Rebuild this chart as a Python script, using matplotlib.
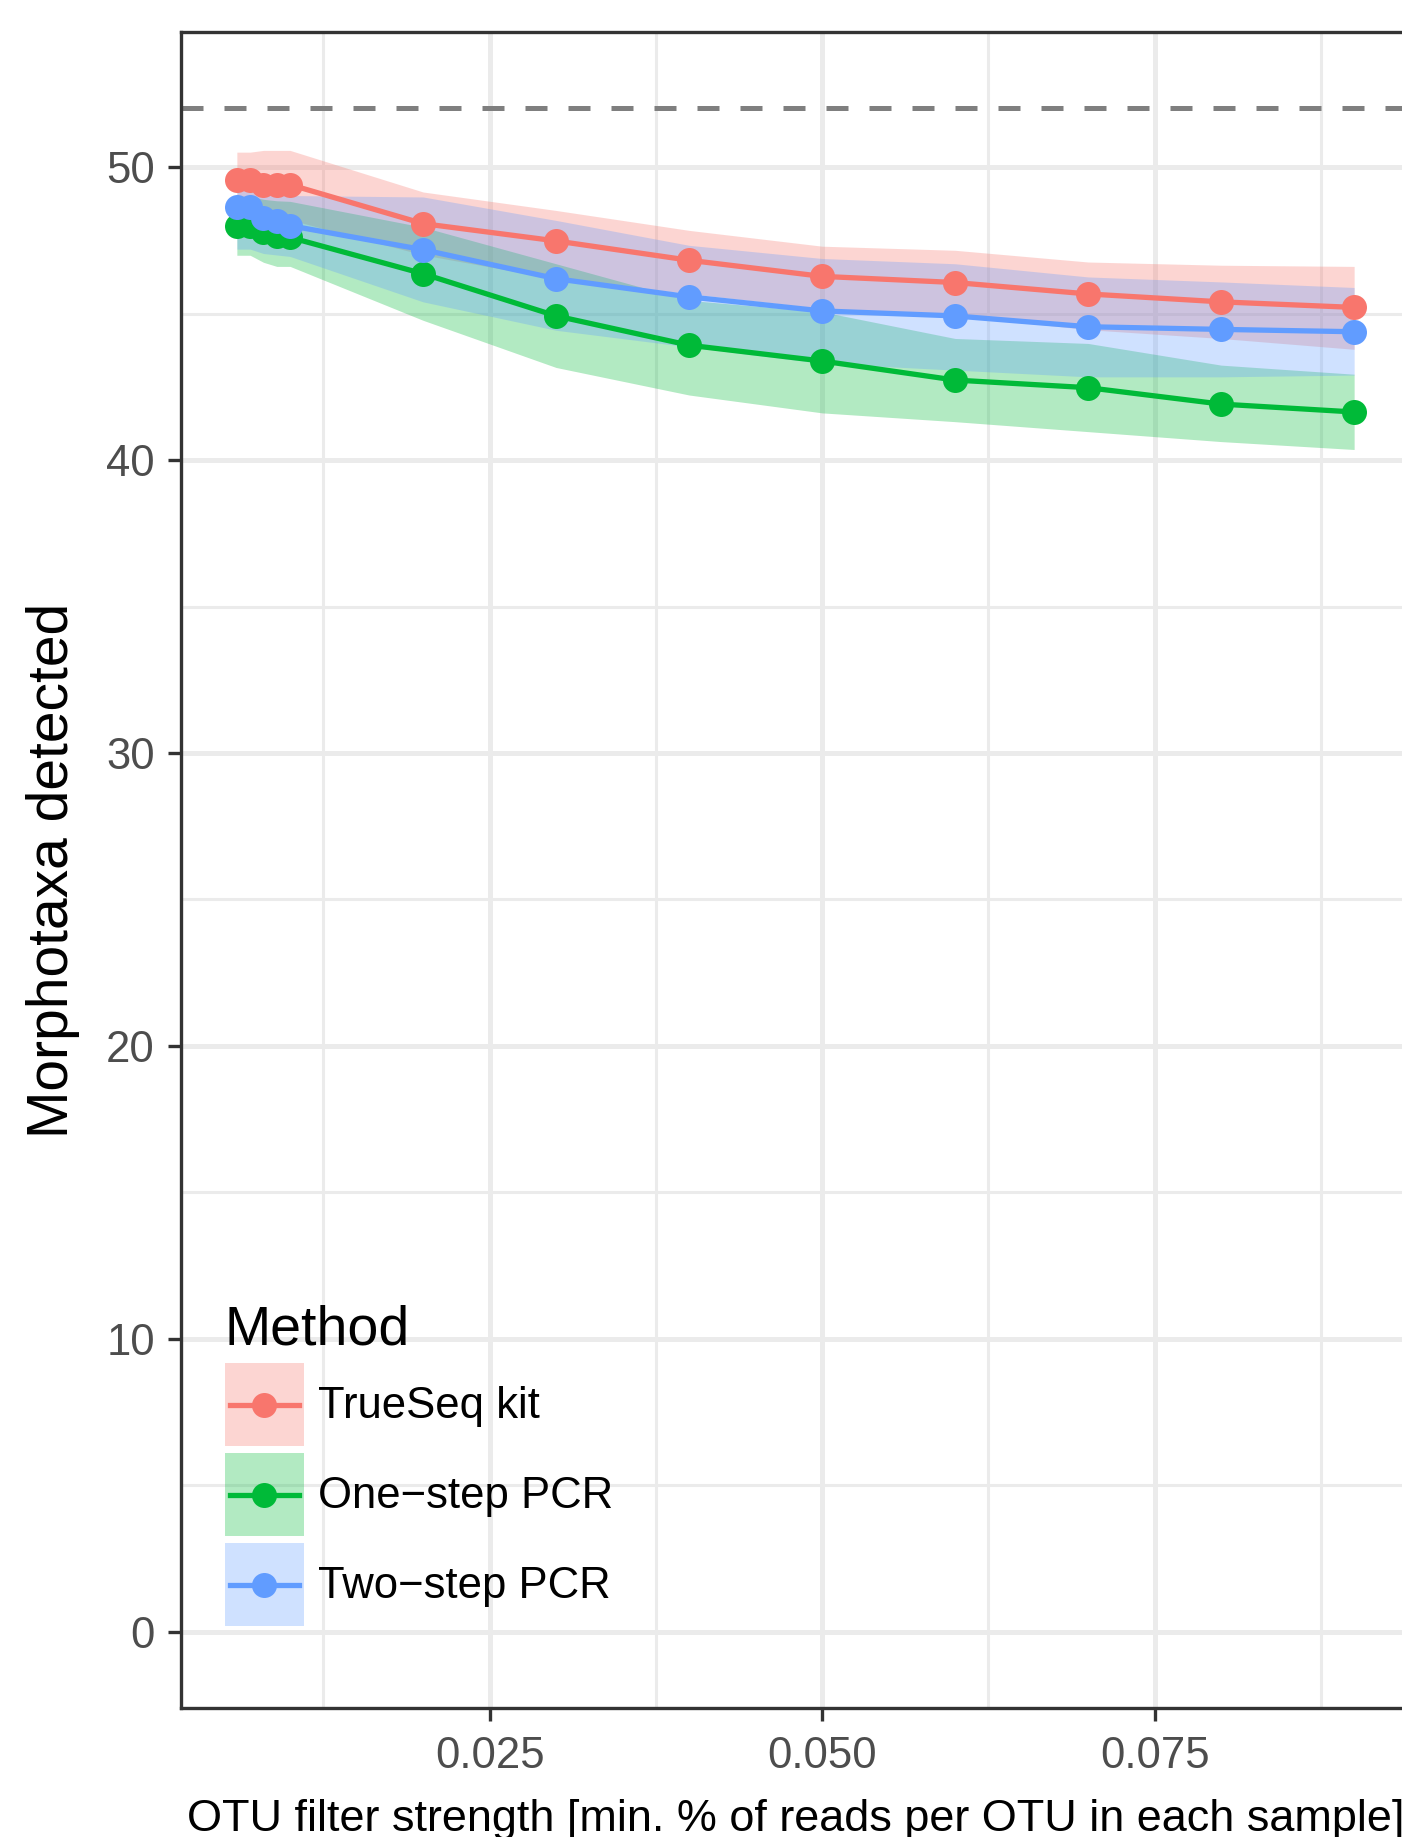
import matplotlib
matplotlib.use("Agg")
import matplotlib.pyplot as plt
from matplotlib.patches import Rectangle
from matplotlib.lines import Line2D
from matplotlib.legend_handler import HandlerBase
from matplotlib.ticker import FixedLocator

plt.rcParams['font.family'] = ['Liberation Sans', 'DejaVu Sans']

# ---------------- data ----------------
filter_strength = [0.006, 0.007, 0.008, 0.009, 0.01, 0.02, 0.03, 0.04, 0.05, 0.06, 0.07, 0.08, 0.09]

methods = ["TrueSeq kit", "One\u2212step PCR", "Two\u2212step PCR"]
colors = ["#F8766D", "#00BA38", "#619CFF"]

trueseq_mean = [49.55, 49.55, 49.4, 49.4, 49.4, 48.07, 47.48, 46.82, 46.27, 46.06, 45.67, 45.40, 45.21]
trueseq_upper = [50.51, 50.51, 50.57, 50.57, 50.57, 49.15, 48.52, 47.84, 47.30, 47.16, 46.76, 46.65, 46.61]
trueseq_lower = [48.3, 48.3, 48.2, 48.2, 48.2, 47.0, 46.19, 45.68, 45.17, 44.94, 44.45, 44.15, 43.78]

onestep_mean = [48.0, 48.0, 47.8, 47.65, 47.6, 46.36, 44.92, 43.92, 43.38, 42.73, 42.47, 41.91, 41.64]
onestep_upper = [49.0, 49.0, 48.9, 48.85, 48.83, 47.95, 46.7, 45.45, 45.06, 44.15, 43.98, 43.24, 42.93]
onestep_lower = [46.99, 46.99, 46.75, 46.61, 46.61, 44.77, 43.16, 42.22, 41.61, 41.31, 40.97, 40.63, 40.36]

twostep_mean = [48.65, 48.65, 48.25, 48.15, 48.0, 47.18, 46.19, 45.57, 45.09, 44.92, 44.55, 44.46, 44.38]
twostep_upper = [49.2, 49.2, 49.1, 49.05, 49.03, 48.98, 48.18, 47.33, 46.88, 46.70, 46.25, 46.08, 45.89]
twostep_lower = [47.2, 47.2, 47.05, 47.0, 46.95, 45.4, 44.43, 43.86, 43.3, 43.07, 42.84, 42.84, 42.9]

total_morphotaxa = 52

y_ticks = [0, 10, 20, 30, 40, 50]
y_minor = [5, 15, 25, 35, 45]
x_ticks = [0.025, 0.050, 0.075]
x_tick_labels = ["0.025", "0.050", "0.075"]
x_minor = [0.0125, 0.0375, 0.0625, 0.0875]

means = [trueseq_mean, onestep_mean, twostep_mean]
uppers = [trueseq_upper, onestep_upper, twostep_upper]
lowers = [trueseq_lower, onestep_lower, twostep_lower]

LW = 1.9
MS = 9.0
ALPHA = 0.3


class KeyHandler(HandlerBase):
    """ggplot-like key: filled ribbon square with a centred line + point."""
    def create_artists(self, legend, orig_handle, xdescent, ydescent,
                       width, height, fontsize, trans):
        c = orig_handle
        x0, y0 = -xdescent, -ydescent
        rect = Rectangle((x0, y0), width, height, facecolor=c, alpha=ALPHA,
                         edgecolor='none', transform=trans)
        yc = y0 + height / 2.0
        inset = 0.06 * width
        ln = Line2D([x0 + inset, x0 + width - inset], [yc, yc], color=c,
                    linewidth=LW, transform=trans)
        mk = Line2D([x0 + width / 2.0], [yc], linestyle='none', marker='o',
                    markersize=MS, markerfacecolor=c, markeredgewidth=0,
                    transform=trans)
        return [rect, ln, mk]


# ---------------- figure ----------------
fig = plt.figure(figsize=(7.01, 9.185), dpi=200)
ax = fig.add_axes([0.1291, 0.0702, 0.8766, 0.9122])

ax.set_xlim(0.0018, 0.0942)
ax.set_ylim(-2.6, 54.6)

ax.xaxis.set_major_locator(FixedLocator(x_ticks))
ax.xaxis.set_minor_locator(FixedLocator(x_minor))
ax.yaxis.set_major_locator(FixedLocator(y_ticks))
ax.yaxis.set_minor_locator(FixedLocator(y_minor))
ax.set_xticklabels(x_tick_labels)
ax.set_yticklabels([str(v) for v in y_ticks])

ax.set_axisbelow(True)
ax.grid(which='major', color='#EBEBEB', linewidth=1.8)
ax.grid(which='minor', color='#EBEBEB', linewidth=1.1)

ax.tick_params(which='major', direction='out', length=4.7, width=1.2, color='#333333',
               labelsize=15.7, labelcolor='#4D4D4D')
ax.tick_params(axis='y', which='major', pad=4.7)
ax.tick_params(axis='x', which='major', pad=5.4)
ax.tick_params(which='minor', length=0)
for sp in ax.spines.values():
    sp.set_color('#333333')
    sp.set_linewidth(1.2)
    sp.set_zorder(10)

# reference line
ax.axhline(total_morphotaxa, color='#7F7F7F', linewidth=1.8, dashes=(4.4, 4.2), zorder=1.5)

# ribbons
for lo, hi, c in zip(lowers, uppers, colors):
    ax.fill_between(filter_strength, lo, hi, color=c, alpha=ALPHA, linewidth=0, zorder=2)

# lines
for m, c in zip(means, colors):
    ax.plot(filter_strength, m, color=c, linewidth=LW, zorder=3)

# points
for m, c in zip(means, colors):
    ax.plot(filter_strength, m, linestyle='none', marker='o', markersize=MS,
            markerfacecolor=c, markeredgecolor=c, markeredgewidth=0, zorder=4)

ax.set_ylabel("Morphotaxa detected", fontsize=20.5, color='black')
ax.yaxis.set_label_coords(-0.0823, 0.5)
ax.set_xlabel("OTU filter strength [min. % of reads per OTU in each sample]", fontsize=16.2, color='black')
ax.xaxis.set_label_coords(0.5, -0.0545)

# legend
handler = KeyHandler()
leg = ax.legend(colors, methods, handler_map={str: handler},
                loc='lower left', bbox_to_anchor=(0.0358, 0.049), frameon=False,
                fontsize=15.7, title="Method", title_fontsize=20, alignment='left',
                handlelength=1.81, handleheight=2.546, labelspacing=0.16,
                handletextpad=0.32, borderpad=0, borderaxespad=0)
leg.set_zorder(5)

fig.savefig("out.png", dpi=200, facecolor='white')
